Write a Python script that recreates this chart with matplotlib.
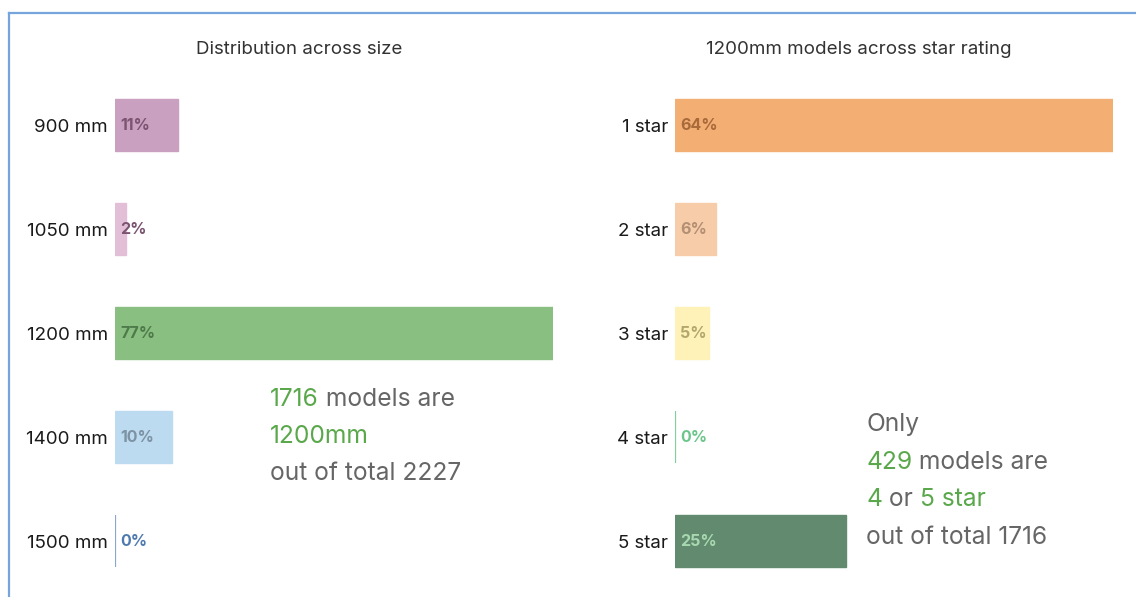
import matplotlib
matplotlib.use("Agg")
import matplotlib.pyplot as plt
from matplotlib.lines import Line2D

plt.rcParams['font.family'] = ['Inter', 'DejaVu Sans']

# ---- data ----
size_categories = ["900 mm", "1050 mm", "1200 mm", "1400 mm", "1500 mm"]
size_values = [11, 2, 77, 10, 0]
size_colors = ["#c9a0bf", "#e2bfd7", "#8abf82", "#bcdaf0", "#8aa6cc"]
size_label_colors = ["#7a5470", "#7a5470", "#4e7a49", "#7d92a3", "#4f7ab0"]

star_categories = ["1 star", "2 star", "3 star", "4 star", "5 star"]
star_values = [64, 6, 5, 0, 25]
star_colors = ["#f3ae74", "#f7cca9", "#fef2b8", "#7fd09a", "#628a6e"]
star_label_colors = ["#a86a3a", "#b38f74", "#b3a76c", "#6cc68c", "#a8d8b0"]

left_note = [[("1716", "g"), (" models are", "k")], [("1200mm", "g")], [("out of total 2227", "k")]]
right_note = [[("Only", "k")], [("429", "g"), (" models are", "k")],
              [("4", "g"), (" or ", "k"), ("5 star", "g")], [("out of total 1716", "k")]]

W, H = 1136, 597
fig = plt.figure(figsize=(W / 100, H / 100), dpi=100)
GREEN = "#5aa84b"
GRAY = "#666666"


def fx(px):
    return px / W


def fy(py):
    return 1 - py / H


def panel(x0, xmax, cats, vals, colors, lcolors, title, title_x):
    ax = fig.add_axes([fx(x0), fy(593), fx(438), 520 / H])
    lws = [1.6 if v == 0 else 1.0 for v in vals]
    ax.barh(range(len(cats)), vals, height=0.5, color=colors, edgecolor=colors, linewidth=lws)
    for i, (v, c) in enumerate(zip(vals, lcolors)):
        ax.text(xmax * 5 / 438, i, f"{v}%", va="center", ha="left",
                fontsize=11.5, fontweight="bold", color=c)
    ax.set_xlim(0, xmax)
    ax.set_ylim(4.5, -0.5)
    ax.set_yticks(range(len(cats)))
    ax.set_yticklabels(cats, fontsize=13.5, color="#1a1a1a")
    ax.tick_params(axis="y", length=0, pad=5)
    ax.set_xticks([])
    for s in ax.spines.values():
        s.set_visible(False)
    ax.patch.set_alpha(0)
    fig.text(fx(title_x), fy(49), title, ha="center", va="center", fontsize=13.5, color="#333333")
    return ax


panel(115, 77.05, size_categories, size_values, size_colors, size_label_colors,
      "Distribution across size", 299)
panel(675, 64, star_categories, star_values, star_colors, star_label_colors,
      "1200mm models across star rating", 859)

fig.canvas.draw()
renderer = fig.canvas.get_renderer()


def note(x_px, y_start, lines, step=37.5):
    for li, segs in enumerate(lines):
        x = fx(x_px)
        y = fy(y_start + li * step)
        for txt, col in segs:
            t = fig.text(x, y, txt, ha="left", va="center", fontsize=17.7,
                         color=GREEN if col == "g" else GRAY)
            bb = t.get_window_extent(renderer)
            x += bb.width / W


note(270, 399, left_note)
note(866, 425, right_note)

# border lines
fig.add_artist(Line2D([fx(9), 1], [fy(13), fy(13)], color="#76a5dc", linewidth=1.6))
fig.add_artist(Line2D([fx(9), fx(9)], [fy(13), 0], color="#76a5dc", linewidth=1.6))

fig.savefig("out.png", dpi=100)
